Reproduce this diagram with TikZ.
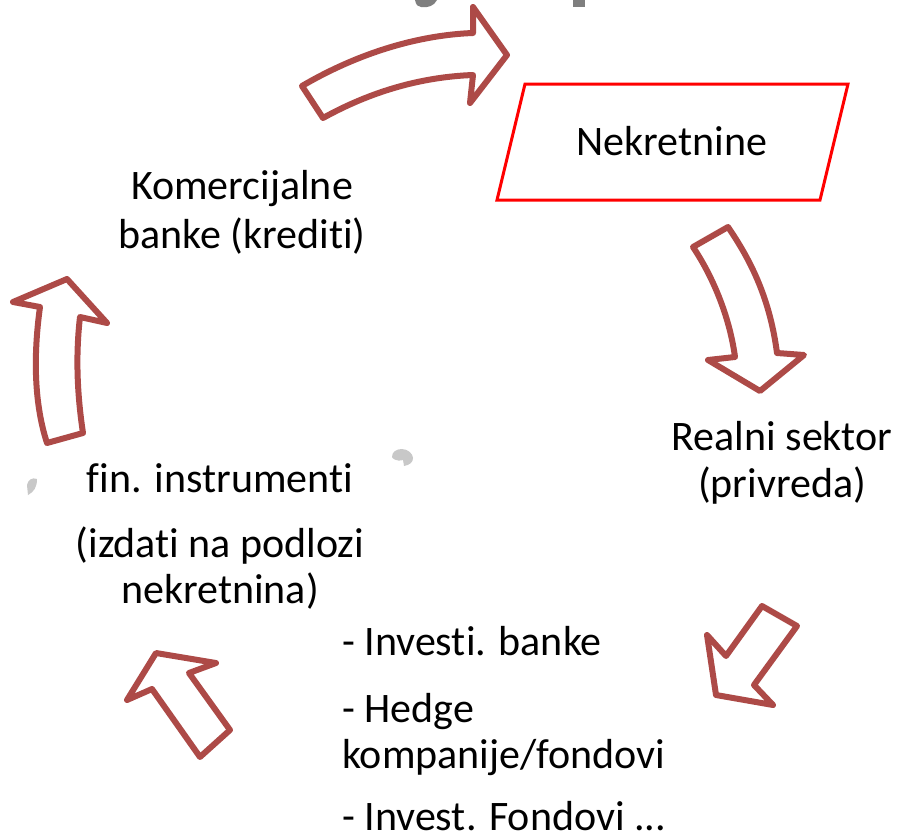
\documentclass[tikz,border=0pt]{standalone}
\usepackage{fontspec}
\setmainfont{Carlito}[Ligatures=NoCommon]
\definecolor{arrowred}{HTML}{AD4A47}
\definecolor{boxred}{HTML}{FF0000}
\definecolor{titlegray}{HTML}{7F7F7F}
\definecolor{lightgray2}{HTML}{C8C8C8}
\begin{document}
\begin{tikzpicture}[x=1pt,y=-1pt,
  blockarrow/.style={draw=arrowred,fill=white,line width=6pt,line join=round},
  lbl/.style={inner sep=0pt,anchor=base,font=\fontsize{42}{50}\selectfont},
  lbll/.style={inner sep=0pt,anchor=base west,font=\fontsize{42}{50}\selectfont}]
\useasboundingbox (0,0) rectangle (899,835);
% title remnants
\fill[titlegray] (415,0) -- (437,0) .. controls (434,6) and (428,8) .. (421,7) .. controls (418,7) and (416,5) .. (415,0) -- cycle;
\fill[titlegray] (573,0) rectangle (585,7);
% light gray marks
\fill[lightgray2] (37,479) .. controls (37,487) and (34,492) .. (28,495) -- (27,485) .. controls (28,480) and (32,477) .. (37,479) -- cycle;
\fill[lightgray2] (402,449) .. controls (408,449) and (413,454) .. (413,458) .. controls (413,462) and (410,465) .. (404,466) -- (403,460) .. controls (396,462) and (392,458) .. (392,457) .. controls (392,452) and (396,449) .. (402,449) -- cycle;
% parallelogram
\draw[boxred,line width=3pt,line join=miter] (525,84) coordinate (p1) -- (848,84) coordinate (p2) -- (820,200) coordinate (p3) -- (497,200) coordinate (p4) -- cycle;
\node[lbl] (nek) at (672,155) {Nekretnine};
% arrows
\draw[blockarrow] (302,86) .. controls (360,52) and (420,35) .. (473,33) -- (473,7) -- (507,55) -- (470,103) -- (473,75) .. controls (420,77) and (370,92) .. (323,118) -- cycle;
\draw[blockarrow] (693,247) .. controls (715,280) and (730,320) .. (735,357) -- (708,360) -- (760,391) -- (804,355) -- (777,353) .. controls (770,300) and (752,262) .. (728,227) -- cycle;
\draw[blockarrow] (47,443) .. controls (33,400) and (34,350) .. (40,307) -- (13,302) -- (67,279) -- (107,323) -- (80,317) .. controls (75,360) and (78,400) .. (83,433) -- cycle;
\draw[blockarrow] (762,606) -- (726,656) -- (707,635) -- (716,695) -- (773,705) -- (754,685) -- (797,626) -- cycle;
\draw[blockarrow] (156,653) -- (216,663) -- (189,673) -- (230,730) -- (200,757) -- (152,689) -- (127,700) -- cycle;
% texts
\node[lbl] (kom1) at (242,199) {Komercijalne};
\node[lbl] (kom2) at (242,248) {banke (krediti)};
\node[lbl] (real1) at (782,450) {Realni sektor};
\node[lbl] (real2) at (782,497) {(privreda)};
\node[lbl] (fin1) at (220,492) {fin. instrumenti};
\node[lbl] (fin2) at (220,557) {(izdati na podlozi};
\node[lbl] (fin3) at (220,603) {nekretnina)};
\node[lbll] (inv1) at (342,655) {- Investi. banke};
\node[lbll] (inv2) at (342,722) {- Hedge};
\node[lbll] (inv3) at (342,768) {kompanije/fondovi};
\node[lbll] (inv4) at (342,830) {- Invest. Fondovi ...};
\end{tikzpicture}
\end{document}
